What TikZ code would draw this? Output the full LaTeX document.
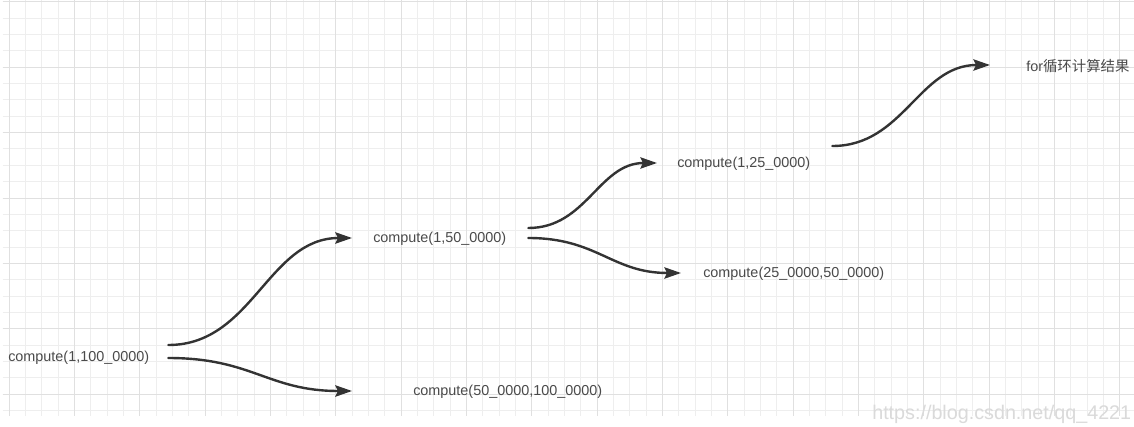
\documentclass[tikz,border=0pt]{standalone}
\usepackage{fontspec}
\setmainfont{Liberation Sans}
\newfontfamily\cjk{Noto Sans CJK SC}
\usepackage{xcolor}
\usetikzlibrary{arrows.meta}
\definecolor{edgegray}{HTML}{333333}
\definecolor{textgray}{HTML}{4A4A4A}
\definecolor{gridminor}{HTML}{EEEEEE}
\definecolor{gridmajor}{HTML}{E0E0E0}
\definecolor{wmark}{HTML}{DADADA}

\begin{document}
\begin{tikzpicture}[x=0.75pt, y=-0.75pt,
        call/.style = {anchor=west, inner sep=0pt, text=textgray, font=\fontsize{10.8}{13}\selectfont},
        link/.style = {draw=edgegray, line width=1.8pt, line cap=round, -{Stealth[length=12.5pt, width=8.5pt, inset=2pt]}}]
    \useasboundingbox (0,0) rectangle (1134,427);
    \fill[white] (0,0) rectangle (1134,427);
    \foreach \k in {0,...,68}
        \draw[gridminor, line width=0.75pt] ({9.3+16.33*\k},0) -- ({9.3+16.33*\k},416);
    \foreach \k in {0,...,25}
        \draw[gridminor, line width=0.75pt] (2.7,{1.7+16.36*\k}) -- (1134,{1.7+16.36*\k});
    \foreach \k in {0,4,...,68}
        \draw[gridmajor, line width=0.75pt] ({9.3+16.33*\k},0) -- ({9.3+16.33*\k},416);
    \foreach \k in {0,4,...,24}
        \draw[gridmajor, line width=0.75pt] (2.7,{1.7+16.36*\k}) -- (1134,{1.7+16.36*\k});

    \node[call] (1) at (8, 358) {compute(1,100\_0000)};
    \node[call] (2) at (373, 239) {compute(1,50\_0000)};
    \node[call] (3) at (413, 392) {compute(50\_0000,100\_0000)};
    \node[call] (4) at (677, 164) {compute(1,25\_0000)};
    \node[call] (5) at (703, 274) {compute(25\_0000,50\_0000)};
    \node[call] (6) at (1026, 66) {for{\cjk 循环计算结果}};
    \node[anchor=west, inner sep=0pt, text=wmark, font=\fontsize{14.8}{16}\selectfont] (url) at (872, 414) {https://blog.csdn.net/qq\_4221};

    \draw[link] ([shift={(19,-13)}]1.east) .. controls +(84,0) and +(-84,0) .. ([shift={(-21,-1)}]2.west);
    \draw[link] ([shift={(19,0)}]1.east) .. controls +(84,0) and +(-84,0) .. ([shift={(-61,-1)}]3.west);
    \draw[link] ([shift={(22,-11)}]2.east) .. controls +(58,0) and +(-58,0) .. ([shift={(-20,-1)}]4.west);
    \draw[link] ([shift={(22,-1)}]2.east) .. controls +(69,0) and +(-69,0) .. ([shift={(-22,-1)}]5.west);
    \draw[link] ([shift={(22,-18)}]4.east) .. controls +(71,0) and +(-71,0) .. ([shift={(-36,-1)}]6.west);
\end{tikzpicture}
\end{document}
